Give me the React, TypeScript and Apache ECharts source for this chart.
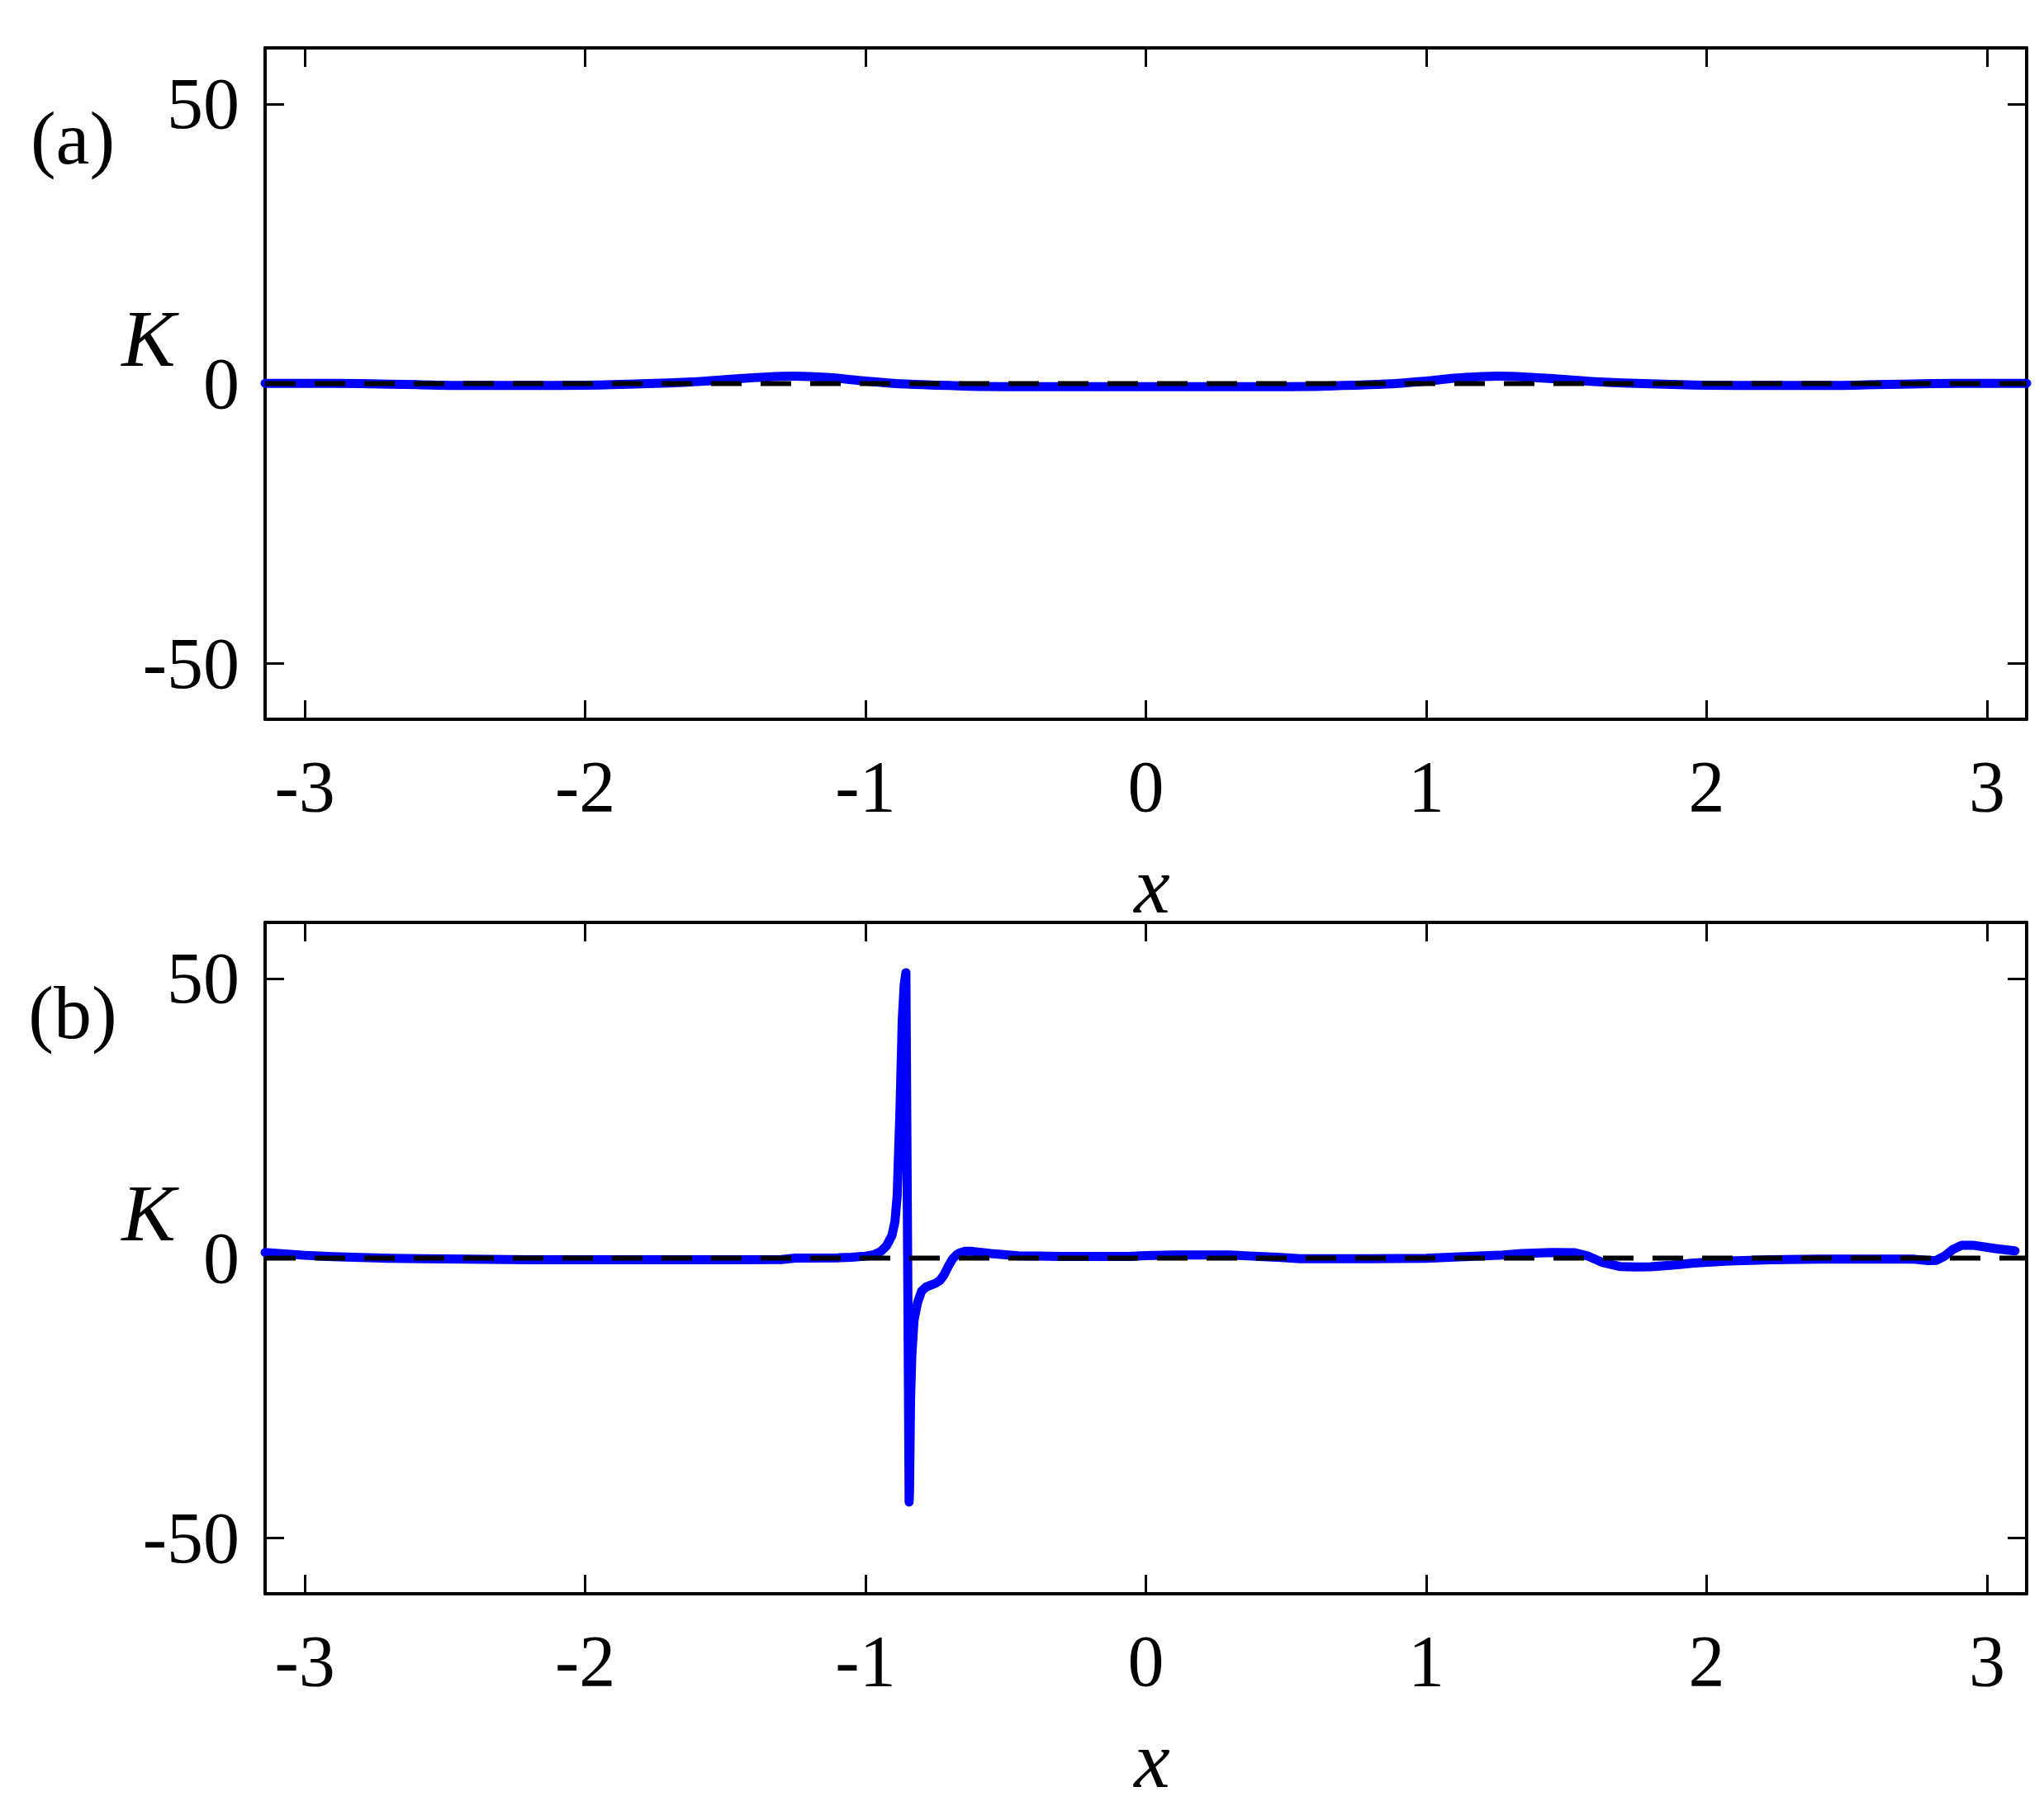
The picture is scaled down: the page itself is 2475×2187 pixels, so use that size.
import React, { useEffect, useRef } from "react";
import * as echarts from "echarts";

const PI = Math.PI;

// Panel (a) data
const xA = [-3.1416, -3.0, -2.8, -2.6, -2.4, -2.2, -2.0, -1.9, -1.8, -1.7, -1.6, -1.5, -1.4, -1.3, -1.25, -1.2, -1.1, -1.0, -0.9, -0.8, -0.7, -0.6, -0.4, -0.2, 0, 0.2, 0.4, 0.6, 0.7, 0.8, 0.9, 1.0, 1.1, 1.2, 1.25, 1.3, 1.4, 1.5, 1.6, 1.7, 1.8, 1.9, 2.0, 2.2, 2.4, 2.6, 2.8, 3.0, 3.1416];
const kA = [0.05, 0.05, 0.0, -0.2, -0.35, -0.35, -0.3, -0.2, -0.05, 0.1, 0.35, 0.7, 1.05, 1.3, 1.33, 1.25, 0.95, 0.45, 0.05, -0.2, -0.35, -0.5, -0.55, -0.55, -0.55, -0.55, -0.55, -0.5, -0.35, -0.2, 0.05, 0.45, 0.95, 1.25, 1.33, 1.3, 1.05, 0.7, 0.35, 0.1, -0.05, -0.2, -0.3, -0.35, -0.35, -0.2, 0.0, 0.05, 0.05];

// Panel (b) data
const xB = [-3.1416, -3.0, -2.9, -2.8, -2.7, -2.5, -2.2, -1.8, -1.5, -1.3, -1.25, -1.1, -1.05, -1.0, -0.97, -0.945, -0.925, -0.906, -0.895, -0.887, -0.877, -0.869, -0.862, -0.856, -0.8444, -0.843, -0.8395, -0.835, -0.827, -0.814, -0.8, -0.785, -0.77, -0.75, -0.735, -0.72, -0.706, -0.69, -0.675, -0.66, -0.645, -0.62, -0.553, -0.455, -0.3, -0.06, 0.0, 0.1, 0.3, 0.38, 0.47, 0.55, 0.8, 1.0, 1.1, 1.26, 1.34, 1.45, 1.53, 1.575, 1.63, 1.69, 1.75, 1.8, 1.87, 1.955, 2.08, 2.23, 2.4, 2.74, 2.79, 2.82, 2.85, 2.88, 2.91, 2.95, 3.03, 3.1];
const kB = [1.0, 0.5, 0.25, 0.1, -0.05, -0.15, -0.3, -0.3, -0.3, -0.25, 0.0, 0.05, 0.15, 0.35, 0.6, 1.2, 2.2, 4.0, 6.5, 11.2, 26.5, 42.5, 48.9, 51.0, -43.6, -41.5, -25.6, -17.5, -11.1, -7.9, -5.9, -5.2, -4.9, -4.5, -4.0, -3.0, -1.6, -0.2, 0.6, 1.0, 1.2, 1.2, 0.8, 0.4, 0.3, 0.3, 0.45, 0.55, 0.55, 0.35, 0.15, -0.1, -0.1, -0.05, 0.2, 0.5, 0.8, 1.0, 0.95, 0.4, -0.8, -1.5, -1.6, -1.55, -1.3, -0.9, -0.5, -0.3, -0.2, -0.2, -0.45, -0.4, 0.4, 1.6, 2.3, 2.3, 1.7, 1.3];

const xTicks = [-3, -2, -1, 0, 1, 2, 3];
const yTicks = [-50, 0, 50];
const panelLabels = ["(a)", "(b)"];

const FONT = "'Liberation Serif', 'Times New Roman', serif";

export default function App() {
  const ref = useRef<HTMLDivElement>(null);
  useEffect(() => {
    if (!ref.current) return;
    const chart = echarts.init(ref.current, null, { renderer: "svg" });
    const grids = [
      { left: 321, top: 58, width: 2133, height: 813 },
      { left: 321, top: 1117, width: 2133, height: 813 },
    ];
    const axisLine = { show: true, onZero: false, lineStyle: { color: "#000", width: 4 } };
    const xAxes: any[] = [];
    const yAxes: any[] = [];
    grids.forEach((_, i) => {
      ["bottom", "top"].forEach((pos) => {
        xAxes.push({
          type: "value",
          gridIndex: i,
          position: pos,
          min: -PI,
          max: PI,
          axisLine,
          splitLine: { show: false },
          axisTick: { show: true, inside: true, length: 23, customValues: xTicks, lineStyle: { color: "#000", width: 3 } },
          axisLabel: {
            show: pos === "bottom",
            customValues: xTicks,
            formatter: (v: number) => String(Math.round(v)),
            fontSize: 88,
            fontFamily: FONT,
            color: "#000",
            margin: 37,
          },
        });
      });
      ["left", "right"].forEach((pos) => {
        yAxes.push({
          type: "value",
          gridIndex: i,
          position: pos,
          min: -60,
          max: 60,
          axisLine,
          splitLine: { show: false },
          axisTick: { show: true, inside: true, length: 23, customValues: yTicks, lineStyle: { color: "#000", width: 3 } },
          axisLabel: {
            show: pos === "left",
            customValues: yTicks,
            formatter: (v: number) => String(Math.round(v)),
            fontSize: 88,
            fontFamily: FONT,
            color: "#000",
            margin: 31,
          },
        });
      });
    });
    const series: any[] = [];
    const blueData = [xA.map((x, j) => [x, kA[j]]), xB.map((x, j) => [x, kB[j]])];
    grids.forEach((_, i) => {
      series.push({
        type: "line",
        xAxisIndex: i * 2,
        yAxisIndex: i * 2,
        data: blueData[i],
        showSymbol: false,
        smooth: i === 0 ? 0.3 : false,
        lineStyle: { color: "#0000FF", width: 11, cap: "round", join: "round" },
        z: 2,
      });
      series.push({
        type: "line",
        xAxisIndex: i * 2,
        yAxisIndex: i * 2,
        data: [[-PI, 0], [PI, 0]],
        showSymbol: false,
        lineStyle: { color: "#000", width: 6, type: [37, 23], cap: "butt" },
        z: 3,
      });
    });
    const txt = (text: string, x: number, y: number, italic: boolean, size = 92) => ({
      type: "text",
      x,
      y,
      z: 10,
      style: {
        text,
        fontSize: size,
        fontFamily: FONT,
        fontStyle: italic ? "italic" : "normal",
        fill: "#000",
        align: "center",
        verticalAlign: "middle",
        textAlign: "center",
        textVerticalAlign: "middle",
      },
    });
    const graphic: any[] = [];
    grids.forEach((g, i) => {
      const off = i * 1059;
      graphic.push(txt(panelLabels[i], 88, 167 + off, false));
      graphic.push(txt("K", 180, 410 + off, true, 98));
      graphic.push(txt("x", 1395, 1072 + off, true, 98));
    });
    chart.setOption({
      animation: false,
      backgroundColor: "#fff",
      grid: grids,
      xAxis: xAxes,
      yAxis: yAxes,
      series,
      graphic,
    });
    return () => chart.dispose();
  }, []);
  return (
    <div
      ref={ref}
      style={{ position: "fixed", left: 0, top: 0, width: 2475, height: 2187, background: "#fff" }}
    />
  );
}
